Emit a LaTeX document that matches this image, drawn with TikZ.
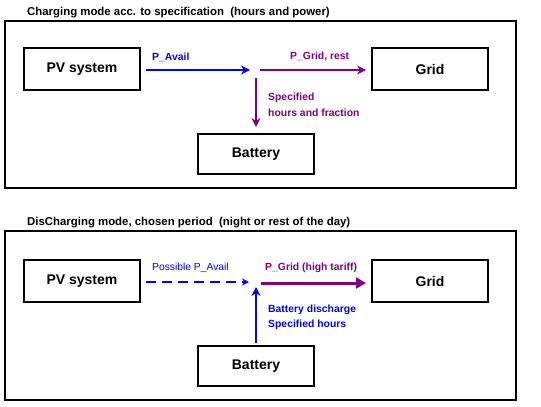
\documentclass[tikz,border=0pt]{standalone}
\usepackage{fontspec}
\setmainfont{Liberation Sans}
\usetikzlibrary{arrows.meta}
\definecolor{pblue}{RGB}{0,0,255}
\definecolor{ppurple}{RGB}{128,0,128}
\begin{document}
\begin{tikzpicture}[x=1pt,y=-1pt,
  frame/.style={draw=black,line width=2pt},
  box/.style={draw=black,line width=2pt,minimum width=116pt,minimum height=42pt,inner sep=0pt,font=\fontsize{14}{16}\selectfont\bfseries},
  title/.style={anchor=west,inner sep=0pt,font=\fontsize{11.4}{13}\selectfont\bfseries},
  lbl/.style={anchor=west,inner sep=0pt,font=\fontsize{10.4}{12}\selectfont\bfseries},
  flow/.style={line width=2pt,-{Stealth[length=9pt,width=9pt]}},
]
\useasboundingbox (0,0) rectangle (541,407);
\fill[white] (0,0) rectangle (541,407);
% ---------- top panel ----------
\node[title] (t1) at (27,13) {Charging mode acc. to specification\ \ (hours and power)};
\draw[frame] (5,21) rectangle (516,188);
\node[box] (pv1) at (82,69) {PV system};
\node[box] (grid1) at (430,69) {Grid};
\node[box,minimum height=40pt] (bat1) at (256,154) {Battery};
\coordinate (j1) at (256,70);
\draw[flow,pblue] ([xshift=5pt]pv1.east|-j1) -- ([xshift=-6pt]j1);
\draw[flow,ppurple] ([xshift=4pt]j1) -- ([xshift=-5pt]grid1.west|-j1);
\draw[flow,ppurple] ([yshift=-8pt]j1) -- ([yshift=6pt]bat1.north);
\node[lbl,pblue] (l1) at (152,57) {P\_Avail};
\node[lbl,ppurple] (l2) at (290,57) {P\_Grid, rest};
\node[lbl,ppurple] (l3) at (268,98) {Specified};
\node[lbl,ppurple] (l4) at (268,113) {hours and fraction};
% ---------- bottom panel ----------
\node[title] (t2) at (27,223) {DisCharging mode, chosen period\ \ (night or rest of the day)};
\draw[frame] (5,231) rectangle (516,400);
\node[box] (pv2) at (82,281) {PV system};
\node[box] (grid2) at (430,281) {Grid};
\node[box,minimum height=40pt] (bat2) at (256,366) {Battery};
\coordinate (j2) at (256,282);
\draw[pblue,line width=1.5pt,dash pattern=on 10pt off 6pt,-{Stealth[length=7pt,width=7pt]}] ([xshift=5pt]pv2.east|-j2) -- ([xshift=-7pt]j2);
\draw[ppurple,line width=3pt,-{Triangle[length=10pt,width=11pt]}] ([xshift=5pt,yshift=-1pt]j2) -- ([xshift=-5pt,yshift=-1pt]grid2.west|-j2);
\draw[flow,pblue] ([yshift=2pt]bat2.north) -- ([yshift=-5pt]j2);
\node[anchor=west,inner sep=0pt,font=\fontsize{10.3}{12}\selectfont,pblue] (l5) at (152,268) {Possible P\_Avail};
\node[lbl,ppurple] (l6) at (265,268) {P\_Grid (high tariff)};
\node[lbl,pblue] (l7) at (268,310) {Battery discharge};
\node[lbl,pblue] (l8) at (268,325) {Specified hours};
\end{tikzpicture}
\end{document}
